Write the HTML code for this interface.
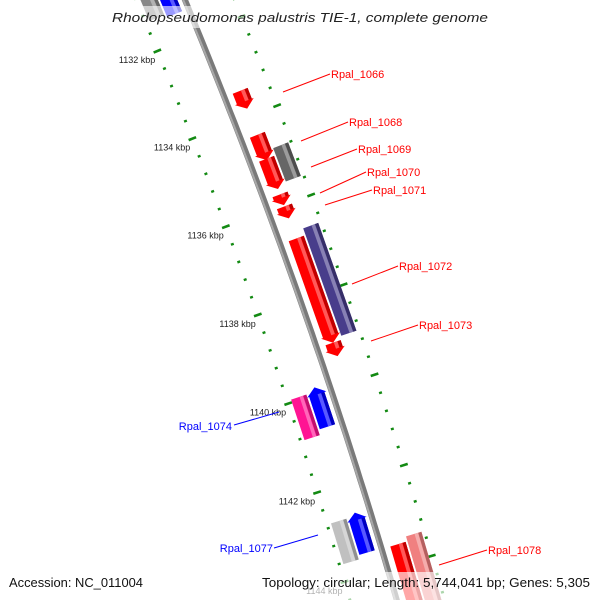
<!DOCTYPE html>
<html><head><meta charset="utf-8"><style>
html,body{margin:0;padding:0;background:#fff;overflow:hidden;width:600px;height:600px;}
svg{display:block;font-family:"Liberation Sans",sans-serif;overflow:hidden;}
</style></head><body>
<svg id="map" width="600" height="600" viewBox="0 0 600 600" xmlns="http://www.w3.org/2000/svg">
<g id="ticks"></g>
<g id="backbone-g"></g>
<g id="features"></g>
<g id="labels">
<g><line x1="283" y1="92" x2="330" y2="74" stroke="#f00" stroke-width="1"/><text x="331" y="78" fill="#f00" font-size="11">Rpal_1066</text></g>
<g><line x1="301" y1="141" x2="348" y2="122" stroke="#f00" stroke-width="1"/><text x="349" y="126" fill="#f00" font-size="11">Rpal_1068</text></g>
<g><line x1="311" y1="167" x2="357" y2="149" stroke="#f00" stroke-width="1"/><text x="358" y="153" fill="#f00" font-size="11">Rpal_1069</text></g>
<g><line x1="320" y1="193" x2="366" y2="172" stroke="#f00" stroke-width="1"/><text x="367" y="176" fill="#f00" font-size="11">Rpal_1070</text></g>
<g><line x1="325" y1="205" x2="372" y2="190" stroke="#f00" stroke-width="1"/><text x="373" y="194" fill="#f00" font-size="11">Rpal_1071</text></g>
<g><line x1="352" y1="284" x2="398" y2="266" stroke="#f00" stroke-width="1"/><text x="399" y="270" fill="#f00" font-size="11">Rpal_1072</text></g>
<g><line x1="371" y1="341" x2="418" y2="325" stroke="#f00" stroke-width="1"/><text x="419" y="329" fill="#f00" font-size="11">Rpal_1073</text></g>
<g><line x1="234" y1="425" x2="279" y2="412" stroke="#00f" stroke-width="1"/><text x="232" y="430" fill="#00f" font-size="11" text-anchor="end">Rpal_1074</text></g>
<g><line x1="274" y1="548" x2="318" y2="535" stroke="#00f" stroke-width="1"/><text x="273" y="552" fill="#00f" font-size="11" text-anchor="end">Rpal_1077</text></g>
<g><line x1="439" y1="565" x2="487" y2="550" stroke="#f00" stroke-width="1"/><text x="488" y="554" fill="#f00" font-size="11">Rpal_1078</text></g>
</g>
<rect x="108" y="6" width="386" height="22" fill="#fff" opacity="0.6"/>
<text x="300" y="22" text-anchor="middle" font-size="13" font-style="italic" fill="#222" textLength="376" lengthAdjust="spacingAndGlyphs">Rhodopseudomonas palustris TIE-1, complete genome</text>
<rect x="0" y="572" width="600" height="28" fill="#fff" opacity="0.65"/>
<text x="9" y="587" font-size="12.5" fill="#111" textLength="134" lengthAdjust="spacingAndGlyphs">Accession: NC_011004</text>
<text x="590" y="587" font-size="12.5" fill="#111" text-anchor="end" textLength="328" lengthAdjust="spacingAndGlyphs">Topology: circular; Length: 5,744,041 bp; Genes: 5,305</text>
</svg>
<script>
// ---- data ----
const majorTicks=[1132,1134,1136,1138,1140,1142,1144];
const tickLabels=["1132 kbp","1134 kbp","1136 kbp","1138 kbp","1140 kbp","1142 kbp","1144 kbp"];
const featNames=["top-gray","top-blue","rpal-1066","rpal-1068","rpal-1069","rpal-1069-gray","rpal-1070","rpal-1071","rpal-1072","rpal-1072-outer","rpal-1073","rpal-1074","rpal-1075","rpal-1077","rpal-1076","rpal-1078","rpal-1078-outer"];
const featStart=[1130.6,1130.6,1133.43,1134.42,1134.96,1134.80,1135.76,1136.03,1136.75,1136.60,1139.08,1139.94,1139.85,1142.72,1142.65,1143.56,1143.45];
const featEnd  =[1131.35,1131.42,1133.83,1134.99,1135.64,1135.55,1136.00,1136.30,1139.08,1139.00,1139.38,1140.85,1140.73,1143.63,1143.54,1145.3,1145.3];
const featRing =[-2,-1,1,1,1,2,1,1,1,2,1,-2,-1,-2,-1,1,2];
const featStrand=[0,-1,1,1,1,0,1,1,1,0,1,0,-1,0,-1,0,0];
const featColor=["#888888","#0000ff","#ff0000","#ff0000","#ff0000","#666666","#ff0000","#ff0000","#ff0000","#483d8b","#ff0000","#ff1493","#0000ff","#c0c0c0","#0000ff","#ff0000","#f08080"];

const NS="http://www.w3.org/2000/svg";
function bb(k){const u=k-1132;
  const x=199+18.02*u-0.1917*u*u, y=34+44.08*u+0.0417*u*u;
  const dx=18.02-0.3834*u, dy=44.08+0.0834*u, L=Math.hypot(dx,dy);
  return {x,y,nx:dy/L,ny:-dx/L};}
function pt(k,off){const b=bb(k);return [b.x+b.nx*off,b.y+b.ny*off];}
function mk(tag,attrs,parent){const e=document.createElementNS(NS,tag);for(const a in attrs)e.setAttribute(a,attrs[a]);parent.appendChild(e);return e;}
function mix(c,t,f){const n=parseInt(c.slice(1),16);const r=n>>16,g=(n>>8)&255,b=n&255;const T=t?255:0;
  const m=v=>Math.round(v+(T-v)*f);return "rgb("+m(r)+","+m(g)+","+m(b)+")";}

const bbG=document.getElementById('backbone-g');
let d="";for(let k=1130.5;k<=1145.4;k+=0.25){const p=pt(k,0);d+=(d?"L":"M")+p[0].toFixed(1)+","+p[1].toFixed(1);}
const bl=mk('path',{d:d,fill:"none",stroke:"#7a7a7a","stroke-width":6},bbG);


const bl2=mk('path',{d:d,fill:"none",stroke:"#a8a8a8","stroke-width":2,transform:"translate(-1.5,0.5)"},bbG);



const tg=document.getElementById('ticks');
const green="#138a13";
function tick(k,off,len,major){const a=pt(k,off-len/2),c=pt(k,off+len/2);
  if(a[1]>605)return;
  const l=mk('line',{x1:a[0],y1:a[1],x2:c[0],y2:c[1],stroke:green,"stroke-width":major?2.6:2.4},tg);
  
  }
for(let i=0;i<majorTicks.length;i++){
  const k0=majorTicks[i];
  [-45,46].forEach(off=>{tick(k0,off,8,true);
    for(let j=1;j<5;j++){tick(k0+j*0.4,off,3,false);}
    if(i===0)for(let j=1;j<5;j++){tick(k0-j*0.4,off,3,false);}
  });
  const p=pt(k0,-45);
  const t=mk('text',{x:(p[0]-2).toFixed(1),y:(p[1]+12).toFixed(1),"font-size":"9","text-anchor":"end",fill:"#222"},tg);
  t.textContent=tickLabels[i];
  
  
}

const fg=document.getElementById('features');
const ringOff={"1":17,"2":35,"-1":-15,"-2":-33};
const W=16, AH=0.16;
for(let i=0;i<featStart.length;i++){
  const s=featStart[i],e=featEnd[i],o=ringOff[featRing[i]],st=featStrand[i],c=featColor[i];
  const g=mk('g',{},fg);
  
  
  let bs=s,be=e;
  if(st===1)be=Math.max(s,e-AH);
  if(st===-1)bs=Math.min(e,s+AH);
  const lo=o-W/2,hi=o+W/2;
  let poly=[];
  poly.push(pt(bs,lo),pt(be,lo));
  if(st===1){poly.push(pt(be,lo-2),pt(e,o),pt(be,hi+2));}
  poly.push(pt(be,hi),pt(bs,hi));
  if(st===-1){poly.push(pt(bs,hi+2),pt(s,o),pt(bs,lo-2));}
  const body=mk('polygon',{points:poly.map(p=>p[0].toFixed(1)+","+p[1].toFixed(1)).join(" "),fill:c},g);
  
  
  const h1=lo+W*0.55,h2=lo+W*0.78;
  const hp=[pt(bs,h1),pt(be,h1),pt(be,h2),pt(bs,h2)];
  const hl=mk('polygon',{points:hp.map(p=>p[0].toFixed(1)+","+p[1].toFixed(1)).join(" "),fill:mix(c,true,0.35)},g);
  
  
  const dp=[pt(bs,hi-W*0.2),pt(be,hi-W*0.2),pt(be,hi),pt(bs,hi)];
  const dk=mk('polygon',{points:dp.map(p=>p[0].toFixed(1)+","+p[1].toFixed(1)).join(" "),fill:mix(c,false,0.25)},g);
  
  
}
</script>
</body></html>
